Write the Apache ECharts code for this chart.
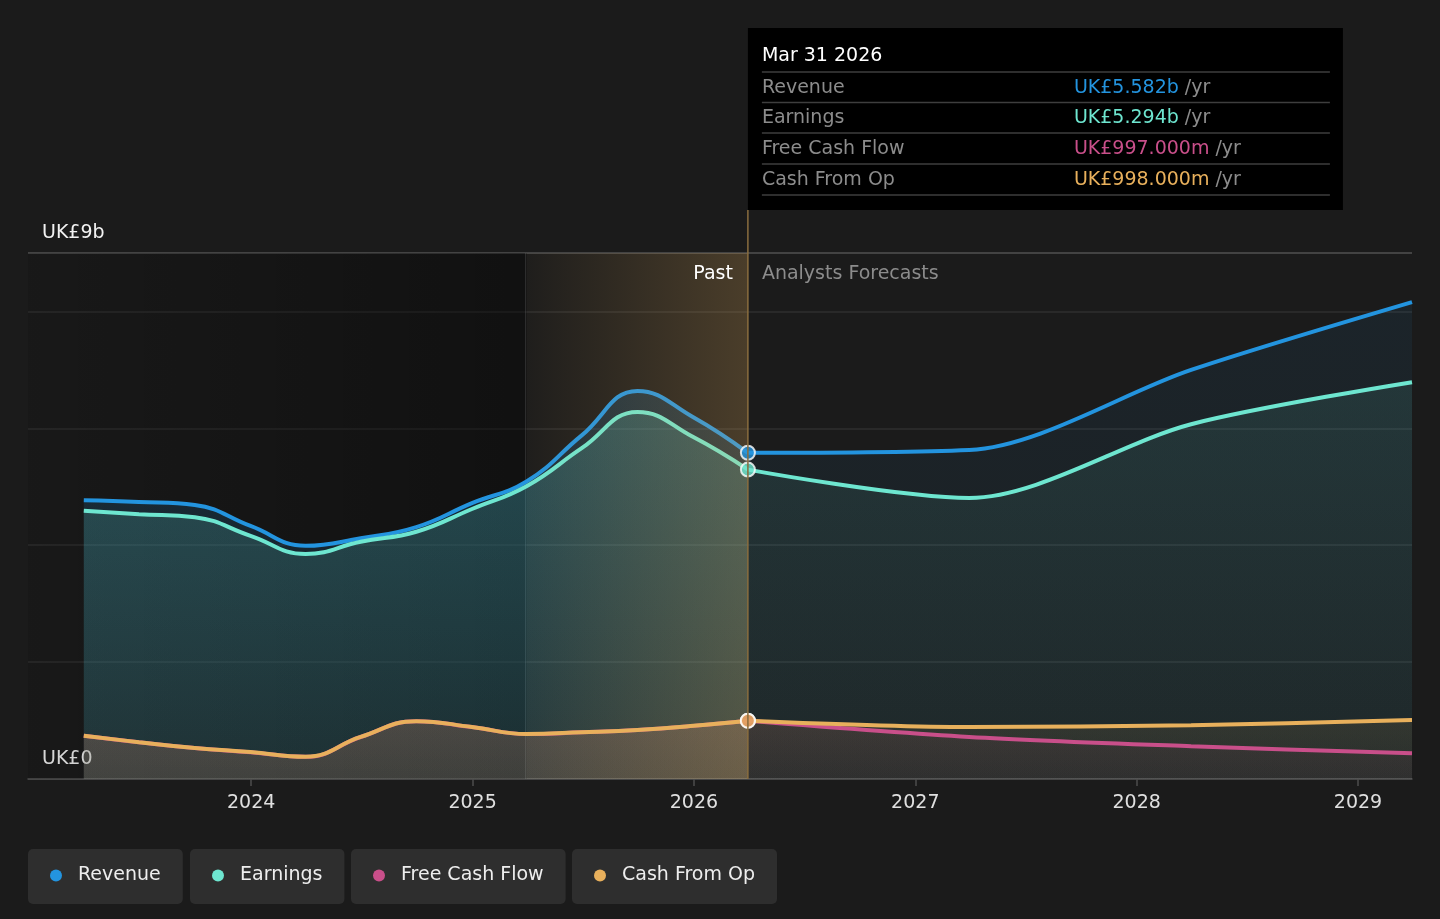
<!DOCTYPE html>
<html>
<head>
<meta charset="utf-8">
<script src="https://cdn.jsdelivr.net/npm/echarts@6/dist/echarts.min.js"></script>
<style>
html,body{margin:0;padding:0;background:#1b1b1b;}
#c{width:1440px;height:919px;}
</style>
</head>
<body>
<div id="c"></div>
<script>
// ---------- data ----------
const pastDates = ['2023-03-31','2023-06-30','2023-09-30','2023-12-31','2024-03-31','2024-06-30','2024-09-30','2024-12-31','2025-03-31','2025-06-30','2025-09-30','2025-12-31','2026-03-31'];
const forecastDates = ['2026-03-31','2027-03-31','2028-03-31','2029-03-31'];

const revenuePast      = [4.77, 4.74, 4.69, 4.33, 3.99, 4.12, 4.31, 4.72, 5.09, 5.88, 6.64, 6.19, 5.582];
const earningsPast     = [4.59, 4.53, 4.48, 4.16, 3.85, 4.06, 4.23, 4.62, 5.01, 5.66, 6.28, 5.85, 5.294];
const freeCashFlowPast = [0.739, 0.629, 0.529, 0.459, 0.379, 0.719, 0.989, 0.889, 0.769, 0.799, 0.839, 0.909, 0.997];
const cashFromOpPast   = [0.74, 0.63, 0.53, 0.46, 0.38, 0.72, 0.99, 0.89, 0.77, 0.80, 0.84, 0.91, 0.998];

const revenueForecast      = [5.582, 5.63, 7.00, 8.16];
const earningsForecast     = [5.294, 4.81, 6.07, 6.79];
const freeCashFlowForecast = [0.997, 0.72, 0.56, 0.44];
const cashFromOpForecast   = [0.998, 0.89, 0.92, 1.01];

const seriesNames = ['Revenue', 'Earnings', 'Free Cash Flow', 'Cash From Op'];
const yearTicks = [2024, 2025, 2026, 2027, 2028, 2029];
const axisStart = '2022-12-29';
const axisEnd = '2029-03-31';
const pastRegionEnd = '2025-03-31';
const forecastStart = '2026-03-31';
const yMax = 9;
const yTickLabels = {0: 'UK£0', 9: 'UK£9b'};
const tooltipTitle = 'Mar 31 2026';

// ---------- helpers ----------
function toYear(s) {
  const [y, m, d] = s.split('-').map(Number);
  const start = Date.UTC(y, 0, 1), end = Date.UTC(y + 1, 0, 1);
  return y + (Date.UTC(y, m - 1, d) - start) / (end - start);
}

// ---------- style ----------
const FONT = '"DejaVu Sans", sans-serif';
const colors = ['#2394df', '#6ee6d0', '#c94f8a', '#e8b05c'];
const rgb = [[35,148,223],[110,230,208],[201,79,138],[232,176,92]];
const pastAlpha = [[0.25,0.11],[0.27,0.13],[0.15,0.10],[0.21,0.17]];
const fcAlpha = [[0.11,0.05],[0.14,0.06],[0.10,0.06],[0.14,0.07]];
const legendLeft = [28, 190, 351, 572];

const pastData = [revenuePast, earningsPast, freeCashFlowPast, cashFromOpPast];
const fcData = [revenueForecast, earningsForecast, freeCashFlowForecast, cashFromOpForecast];

function grad(c, a) {
  return new echarts.graphic.LinearGradient(0, 0, 0, 1, [
    {offset: 0, color: `rgba(${c[0]},${c[1]},${c[2]},${a[0]})`},
    {offset: 1, color: `rgba(${c[0]},${c[1]},${c[2]},${a[1]})`}
  ]);
}
const zip = (d, v) => d.map((x, i) => [toYear(x), v[i]]);

const series = [];
seriesNames.forEach((name, i) => {
  const common = {
    type: 'line', name, symbol: 'none',
    lineStyle: {width: 4, color: colors[i]}, itemStyle: {color: colors[i]}, z: 2
  };
  series.push(Object.assign({}, common, {smooth: 0.45, data: zip(pastDates, pastData[i]), areaStyle: {color: grad(rgb[i], pastAlpha[i])}}));
  series.push(Object.assign({}, common, {smooth: 0.3, data: zip(forecastDates, fcData[i]), areaStyle: {color: grad(rgb[i], fcAlpha[i])}}));
});

// background shading for the past region
series.push({
  type: 'line', name: '_pastShade', data: [], silent: true,
  markArea: {
    silent: true, z: 1,
    data: [[{xAxis: toYear(axisStart), itemStyle: {color: new echarts.graphic.LinearGradient(0,0,1,0,[
      {offset: 0, color: 'rgba(0,0,0,0.10)'}, {offset: 1, color: 'rgba(0,0,0,0.38)'}])}}, {xAxis: toYear(pastRegionEnd)}]]
  },
  markLine: {
    silent: true, z: 1, symbol: ['none','none'], label: {show: false},
    lineStyle: {color: 'rgba(255,255,255,0.12)', type: 'solid', width: 1},
    data: [{xAxis: toYear(pastRegionEnd)}]
  }
});
// highlighted last year
series.push({
  type: 'line', name: '_highlight', data: [], silent: true,
  markArea: {
    silent: true, z: 3,
    data: [[{xAxis: toYear(pastRegionEnd), itemStyle: {color: new echarts.graphic.LinearGradient(0,0,1,0,[
      {offset: 0, color: 'rgba(232,176,92,0.02)'}, {offset: 1, color: 'rgba(232,176,92,0.23)'}])}}, {xAxis: toYear(forecastStart)}]]
  }
});
// current-point dots
series.push({
  type: 'scatter', name: '_dots', z: 5, silent: true, symbolSize: 14,
  itemStyle: {borderColor: '#ffffff', borderWidth: 2},
  data: pastData.map((arr, i) => ({value: [toYear(forecastStart), arr[arr.length - 1]], itemStyle: {color: colors[i]}}))
});

const chart = echarts.init(document.getElementById('c'));
const option = {
  backgroundColor: '#1b1b1b',
  animation: false,
  textStyle: {fontFamily: FONT},
  grid: {left: 28, right: 28, top: 253, bottom: 140},
  xAxis: {
    type: 'value', min: toYear(axisStart), max: toYear(axisEnd),
    axisLine: {lineStyle: {color: '#4d4d4d', width: 1.5}},
    axisTick: {show: true, length: 7, lineStyle: {color: '#4d4d4d', width: 1.5}, customValues: yearTicks},
    axisLabel: {color: '#e0e0e0', fontSize: 19, fontFamily: FONT, margin: 15, customValues: yearTicks,
      formatter: v => String(Math.round(v))},
    splitLine: {show: false}
  },
  yAxis: {
    type: 'value', min: 0, max: yMax, interval: 2,
    axisLine: {show: false}, axisTick: {show: false},
    axisLabel: {inside: true, margin: 14, color: '#f2f2f2', fontSize: 19, fontFamily: FONT,
      verticalAlign: 'bottom', padding: [0, 0, 10, 0],
      formatter: v => yTickLabels[v] || ''},
    splitLine: {lineStyle: {color: ['#3a3a3a','#2f2f2f','#2f2f2f','#2f2f2f','#2f2f2f','#525252'], width: 1.5}}
  },
  legend: seriesNames.map((name, i) => ({
    data: [name], left: legendLeft[i], top: 849, icon: 'circle', itemWidth: 12, itemHeight: 12,
    backgroundColor: '#2e2e2e', borderRadius: 5, padding: [17, 22, 19, 22], selectedMode: false,
    textStyle: {color: '#eeeeee', fontSize: 19, fontFamily: FONT, padding: [0, 0, 0, 11]}
  })),
  series
};
chart.setOption(option);

// ---------- tooltip-like panel & labels ----------
const top9 = chart.convertToPixel({xAxisIndex: 0, yAxisIndex: 0}, [toYear(forecastStart), yMax]);
const base0 = chart.convertToPixel({xAxisIndex: 0, yAxisIndex: 0}, [toYear(forecastStart), 0]);
const lx = top9[0];
const boxTop = 28, boxH = 182, boxW = 595;

const cnv = document.createElement('canvas').getContext('2d');
cnv.font = '19px ' + FONT;
function fmt(v) { return v >= 1 ? 'UK£' + v.toFixed(3) + 'b' : 'UK£' + (v * 1000).toFixed(3) + 'm'; }

const g = [];
g.push({type: 'line', z: 10, shape: {x1: lx, y1: boxTop + boxH, x2: lx, y2: base0[1]},
  style: {stroke: '#8a6d3f', lineWidth: 1.5}});
g.push({type: 'rect', z: 10, shape: {x: lx, y: boxTop, width: boxW, height: boxH}, style: {fill: '#000000'}});
g.push({type: 'text', z: 11, x: lx + 14, y: boxTop + 28,
  style: {text: tooltipTitle, fill: '#ffffff', font: '19px ' + FONT, verticalAlign: 'middle'}});
const rowLines = [44, 74.5, 105, 136, 167];
rowLines.forEach(dy => g.push({type: 'line', z: 11,
  shape: {x1: lx + 14, y1: boxTop + dy, x2: lx + boxW - 13, y2: boxTop + dy},
  style: {stroke: '#3e3e3e', lineWidth: 1.5}}));
seriesNames.forEach((name, i) => {
  const cy = boxTop + (rowLines[i] + rowLines[i + 1]) / 2 + 0.5;
  const arr = pastData[i];
  const val = fmt(arr[arr.length - 1]);
  const vx = lx + 326;
  g.push({type: 'text', z: 11, x: lx + 14, y: cy, style: {text: name, fill: '#8c8c8c', font: '19px ' + FONT, verticalAlign: 'middle'}});
  g.push({type: 'text', z: 11, x: vx, y: cy, style: {text: val, fill: colors[i], font: '19px ' + FONT, verticalAlign: 'middle'}});
  g.push({type: 'text', z: 11, x: vx + cnv.measureText(val + ' ').width, y: cy,
    style: {text: '/yr', fill: '#8c8c8c', font: '19px ' + FONT, verticalAlign: 'middle'}});
});
g.push({type: 'text', z: 11, x: lx - 15, y: top9[1] + 21,
  style: {text: 'Past', fill: '#ffffff', font: '19px ' + FONT, align: 'right', verticalAlign: 'middle'}});
g.push({type: 'text', z: 11, x: lx + 14, y: top9[1] + 21,
  style: {text: 'Analysts Forecasts', fill: '#8c8c8c', font: '19px ' + FONT, align: 'left', verticalAlign: 'middle'}});

chart.setOption({graphic: g});
</script>
</body>
</html>
